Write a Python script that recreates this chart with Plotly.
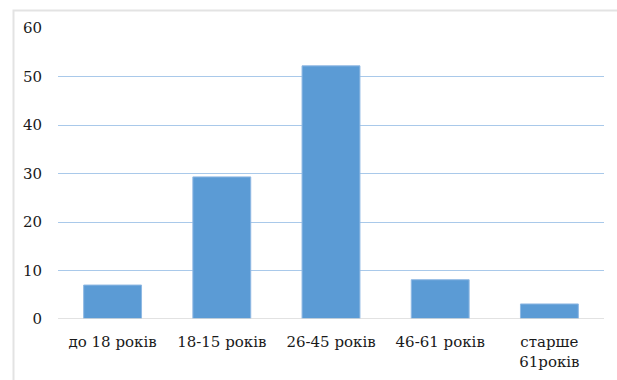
import plotly.graph_objects as go

# Age groups and respondent counts
categories = ["до 18 років", "18-15 років", "26-45 років", "46-61 років", "старше<br>61років"]
values = [7, 29.3, 52.2, 8.1, 3.1]
y_ticks = [0, 10, 20, 30, 40, 50, 60]

W, H = 617, 380
ml, mr, mt, mb = 58, 13, 28, 61
pw, ph = W - ml - mr, H - mt - mb

fig = go.Figure(
    go.Bar(
        x=categories,
        y=values,
        marker=dict(color="#5b9bd5", line=dict(color="#8fb8e3", width=1)),
        width=0.53,
    )
)

font = dict(family="DejaVu Serif", size=15, color="#1a1a1a")

fig.update_layout(
    width=W,
    height=H,
    margin=dict(l=ml, r=mr, t=mt, b=mb, pad=0),
    paper_bgcolor="white",
    plot_bgcolor="white",
    font=font,
    showlegend=False,
    xaxis=dict(
        showgrid=False,
        showline=False,
        zeroline=False,
        ticks="",
        ticklabelstandoff=12,
        automargin=False,
        tickfont=font,
    ),
    yaxis=dict(
        range=[0, 60],
        tickvals=y_ticks,
        showgrid=True,
        gridcolor="#a9c9ea",
        gridwidth=1,
        zeroline=False,
        showline=False,
        ticks="",
        ticklabelstandoff=15,
        automargin=False,
        tickfont=font,
    ),
    shapes=[
        # baseline at zero
        dict(type="line", xref="paper", yref="y", x0=0, x1=1, y0=0, y1=0,
             line=dict(color="#d9d9d9", width=1.5), layer="above"),
        # outer chart frame
        dict(type="rect", xref="paper", yref="paper",
             x0=(13.5 - ml) / pw, x1=1.2,
             y0=-0.5, y1=1 + (mt - 10.5) / ph,
             line=dict(color="#e3e3e3", width=2)),
    ],
)

fig.write_html("out.html")
